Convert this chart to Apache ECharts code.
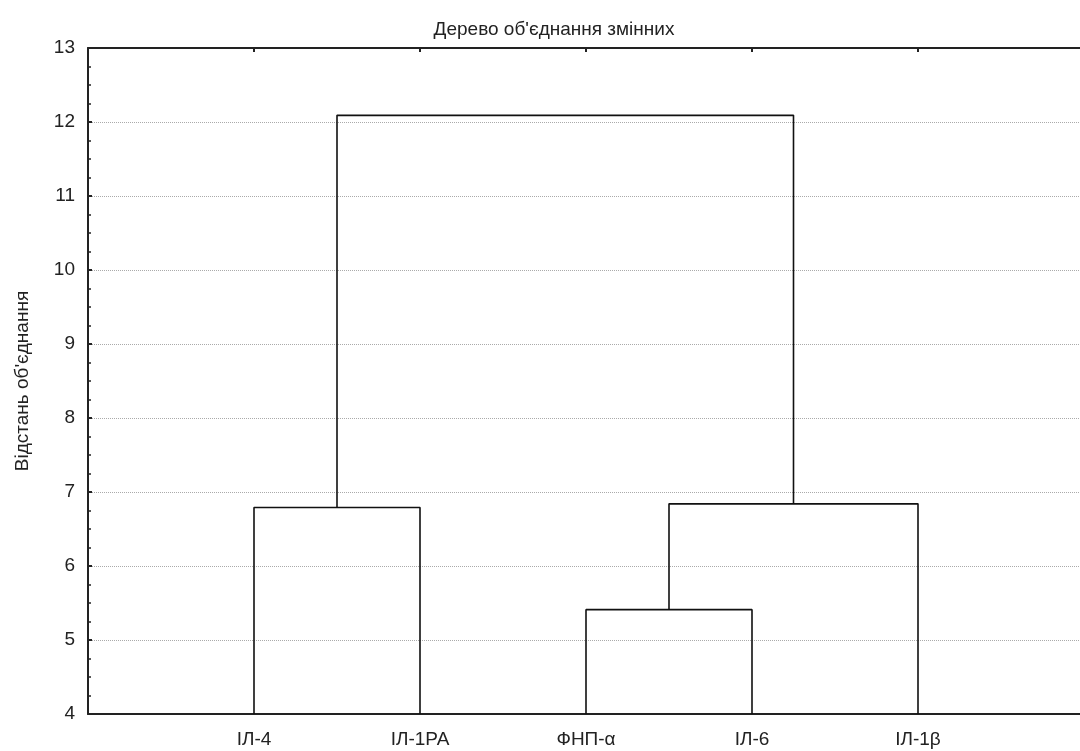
<!DOCTYPE html>
<html>
<head>
<meta charset="utf-8">
<script src="https://cdn.jsdelivr.net/npm/echarts@6/dist/echarts.min.js"></script>
<style>
  html, body { margin: 0; padding: 0; background: #fff; }
  #chart { width: 1080px; height: 751px; }
</style>
</head>
<body>
<div id="chart"></div>
<script>
// leaves of the tree, left to right
const categories = ["ІЛ-4", "ІЛ-1РА", "ФНП-α", "ІЛ-6", "ІЛ-1β"];
// merges, like a linkage table: node ids 0..4 are leaves, 5.. are merges in order
const mergeLeft = [0, 2, 6, 5];
const mergeRight = [1, 3, 4, 7];
const mergeHeight = [6.79, 5.41, 6.84, 12.09];
// y axis ticks
const yTicks = [4, 5, 6, 7, 8, 9, 10, 11, 12, 13];

const chart = echarts.init(document.getElementById("chart"));

// x position and height of every node
const nodeX = categories.map((c, i) => i + 1);
const nodeY = categories.map(() => yTicks[0]);
const links = [];
mergeHeight.forEach((h, k) => {
  const a = mergeLeft[k], b = mergeRight[k];
  links.push([
    [nodeX[a], nodeY[a]],
    [nodeX[a], h],
    [nodeX[b], h],
    [nodeX[b], nodeY[b]],
  ]);
  nodeX.push((nodeX[a] + nodeX[b]) / 2);
  nodeY.push(h);
});

const font = "'Liberation Sans', Arial, sans-serif";

const option = {
  animation: false,
  backgroundColor: "#fff",
  title: {
    text: "Дерево об'єднання змінних",
    left: 549,
    textAlign: "center",
    top: 15,
    textStyle: { fontFamily: font, fontSize: 19, fontWeight: "normal", color: "#222" },
  },
  grid: { left: 88, top: 48, width: 996, height: 666, outerBoundsMode: "none" },
  xAxis: [
    {
      type: "value",
      position: "bottom",
      min: 0,
      max: categories.length + 1,
      interval: 1,
      axisLine: { lineStyle: { color: "#222", width: 2 } },
      axisTick: { show: false },
      splitLine: { show: false },
      axisLabel: {
        margin: 16,
        fontFamily: font,
        fontSize: 19,
        color: "#222",
        formatter: (v) => categories[v - 1] || "",
      },
    },
    {
      type: "value",
      position: "top",
      min: 0,
      max: categories.length + 1,
      interval: 1,
      axisLine: { lineStyle: { color: "#222", width: 2 } },
      axisTick: { inside: true, length: 4, lineStyle: { color: "#222", width: 2 } },
      splitLine: { show: false },
      axisLabel: { show: false },
    },
  ],
  yAxis: {
    type: "value",
    min: yTicks[0],
    max: yTicks[yTicks.length - 1],
    interval: 1,
    name: "Відстань об'єднання",
    nameLocation: "middle",
    nameGap: 56,
    nameTextStyle: { fontFamily: font, fontSize: 19, color: "#222" },
    axisLine: { show: true, lineStyle: { color: "#222", width: 2 } },
    axisTick: { show: true, inside: true, length: 4, lineStyle: { color: "#222", width: 2 } },
    minorTick: { show: true, splitNumber: 4, length: 3, lineStyle: { color: "#222", width: 1.5 } },
    splitLine: { show: true, lineStyle: { color: "#aaa", type: "dotted", width: 1 } },
    axisLabel: { margin: 13, fontFamily: font, fontSize: 19, color: "#222" },
  },
  series: links.map((pts) => ({
    type: "line",
    data: pts,
    symbol: "none",
    lineStyle: { color: "#111", width: 1.6 },
    clip: false,
  })),
};

chart.setOption(option);
</script>
</body>
</html>
